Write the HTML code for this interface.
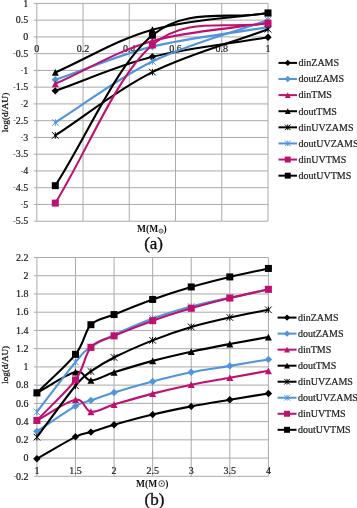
<!DOCTYPE html>
<html><head><meta charset="utf-8"><style>
html,body{margin:0;padding:0;background:#fff;}
body{width:357px;height:508px;overflow:hidden;}
svg{display:block;will-change:transform;}
.lab{font-family:"Liberation Serif",serif;font-size:10px;fill:#1a1a1a;stroke:#1a1a1a;stroke-width:0.2px;}
.leg{font-family:"Liberation Serif",serif;font-size:10px;fill:#1a1a1a;stroke:#1a1a1a;stroke-width:0.2px;}
.ttl{font-family:"Liberation Serif",serif;font-size:9.5px;font-weight:bold;fill:#111;}
.ttl2{font-family:"Liberation Serif",serif;font-weight:normal;fill:#111;stroke:#111;stroke-width:0.25px;}
.big{font-family:"Liberation Serif",serif;font-size:17px;fill:#111;stroke:#111;stroke-width:0.35px;}
</style></head><body>
<svg width="357" height="508" viewBox="0 0 357 508">
<line x1="33.8" y1="3.4" x2="268" y2="3.4" stroke="#AAAAAA" stroke-width="1"/>
<line x1="33.8" y1="20.15" x2="268" y2="20.15" stroke="#AAAAAA" stroke-width="1"/>
<line x1="33.8" y1="36.91" x2="268" y2="36.91" stroke="#AAAAAA" stroke-width="1"/>
<line x1="33.8" y1="53.66" x2="268" y2="53.66" stroke="#AAAAAA" stroke-width="1"/>
<line x1="33.8" y1="70.42" x2="268" y2="70.42" stroke="#AAAAAA" stroke-width="1"/>
<line x1="33.8" y1="87.17" x2="268" y2="87.17" stroke="#AAAAAA" stroke-width="1"/>
<line x1="33.8" y1="103.92" x2="268" y2="103.92" stroke="#AAAAAA" stroke-width="1"/>
<line x1="33.8" y1="120.68" x2="268" y2="120.68" stroke="#AAAAAA" stroke-width="1"/>
<line x1="33.8" y1="137.43" x2="268" y2="137.43" stroke="#AAAAAA" stroke-width="1"/>
<line x1="33.8" y1="154.18" x2="268" y2="154.18" stroke="#AAAAAA" stroke-width="1"/>
<line x1="33.8" y1="170.94" x2="268" y2="170.94" stroke="#AAAAAA" stroke-width="1"/>
<line x1="33.8" y1="187.69" x2="268" y2="187.69" stroke="#AAAAAA" stroke-width="1"/>
<line x1="33.8" y1="204.45" x2="268" y2="204.45" stroke="#AAAAAA" stroke-width="1"/>
<line x1="33.8" y1="221.2" x2="268" y2="221.2" stroke="#AAAAAA" stroke-width="1"/>
<line x1="36.8" y1="3.4" x2="36.8" y2="221.2" stroke="#AAAAAA" stroke-width="1"/>
<line x1="83.04" y1="3.4" x2="83.04" y2="221.2" stroke="#AAAAAA" stroke-width="1"/>
<line x1="129.28" y1="3.4" x2="129.28" y2="221.2" stroke="#AAAAAA" stroke-width="1"/>
<line x1="175.52" y1="3.4" x2="175.52" y2="221.2" stroke="#AAAAAA" stroke-width="1"/>
<line x1="221.76" y1="3.4" x2="221.76" y2="221.2" stroke="#AAAAAA" stroke-width="1"/>
<line x1="268" y1="3.4" x2="268" y2="221.2" stroke="#AAAAAA" stroke-width="1"/>
<text x="28.2" y="6.6" text-anchor="end" class="lab">1</text>
<text x="28.2" y="23.35" text-anchor="end" class="lab">0.5</text>
<text x="28.2" y="40.11" text-anchor="end" class="lab">0</text>
<text x="28.2" y="56.86" text-anchor="end" class="lab"><tspan font-size="7" dy="-1.4">-</tspan><tspan dy="1.4">0.5</tspan></text>
<text x="28.2" y="73.62" text-anchor="end" class="lab"><tspan font-size="7" dy="-1.4">-</tspan><tspan dy="1.4">1</tspan></text>
<text x="28.2" y="90.37" text-anchor="end" class="lab"><tspan font-size="7" dy="-1.4">-</tspan><tspan dy="1.4">1.5</tspan></text>
<text x="28.2" y="107.12" text-anchor="end" class="lab"><tspan font-size="7" dy="-1.4">-</tspan><tspan dy="1.4">2</tspan></text>
<text x="28.2" y="123.88" text-anchor="end" class="lab"><tspan font-size="7" dy="-1.4">-</tspan><tspan dy="1.4">2.5</tspan></text>
<text x="28.2" y="140.63" text-anchor="end" class="lab"><tspan font-size="7" dy="-1.4">-</tspan><tspan dy="1.4">3</tspan></text>
<text x="28.2" y="157.38" text-anchor="end" class="lab"><tspan font-size="7" dy="-1.4">-</tspan><tspan dy="1.4">3.5</tspan></text>
<text x="28.2" y="174.14" text-anchor="end" class="lab"><tspan font-size="7" dy="-1.4">-</tspan><tspan dy="1.4">4</tspan></text>
<text x="28.2" y="190.89" text-anchor="end" class="lab"><tspan font-size="7" dy="-1.4">-</tspan><tspan dy="1.4">4.5</tspan></text>
<text x="28.2" y="207.65" text-anchor="end" class="lab"><tspan font-size="7" dy="-1.4">-</tspan><tspan dy="1.4">5</tspan></text>
<text x="28.2" y="224.4" text-anchor="end" class="lab"><tspan font-size="7" dy="-1.4">-</tspan><tspan dy="1.4">5.5</tspan></text>
<text x="36.8" y="51.5" text-anchor="middle" class="lab">0</text>
<text x="83.04" y="51.5" text-anchor="middle" class="lab">0.2</text>
<text x="129.28" y="51.5" text-anchor="middle" class="lab">0.4</text>
<text x="175.52" y="51.5" text-anchor="middle" class="lab">0.6</text>
<text x="221.76" y="51.5" text-anchor="middle" class="lab">0.8</text>
<text x="268" y="51.5" text-anchor="middle" class="lab">1</text>
<path d="M55.3 90.86 C87.66 79.51 116.95 65.76 152.4 56.81 C187.85 47.86 229.47 43.72 268 37.18" fill="none" stroke="#000000" stroke-width="2.1" stroke-linejoin="round" stroke-linecap="round"/>
<path d="M55.3 87.16L59 90.86L55.3 94.56L51.6 90.86Z" fill="#000000"/>
<path d="M152.4 53.11L156.1 56.81L152.4 60.51L148.7 56.81Z" fill="#000000"/>
<path d="M268 33.48L271.7 37.18L268 40.88L264.3 37.18Z" fill="#000000"/>
<path d="M55.3 79.8 C87.66 68.74 116.95 55.41 152.4 46.62 C187.85 37.84 229.47 33.6 268 27.09" fill="none" stroke="#4F94DC" stroke-width="2.1" stroke-linejoin="round" stroke-linecap="round"/>
<path d="M55.3 76.1L59 79.8L55.3 83.5L51.6 79.8Z" fill="#4F94DC"/>
<path d="M152.4 42.92L156.1 46.62L152.4 50.32L148.7 46.62Z" fill="#4F94DC"/>
<path d="M268 23.39L271.7 27.09L268 30.79L264.3 27.09Z" fill="#4F94DC"/>
<path d="M55.3 83.82 C87.66 69.52 116.95 51.05 152.4 40.93 C187.85 30.8 229.47 29.02 268 23.07" fill="none" stroke="#C0106F" stroke-width="2.1" stroke-linejoin="round" stroke-linecap="round"/>
<path d="M55.3 80.42L58.8 87.22L51.8 87.22Z" fill="#C0106F"/>
<path d="M152.4 37.53L155.9 44.33L148.9 44.33Z" fill="#C0106F"/>
<path d="M268 19.67L271.5 26.47L264.5 26.47Z" fill="#C0106F"/>
<path d="M55.3 72.43 C87.66 58.19 116.95 39.62 152.4 29.7 C187.85 19.79 229.47 18.51 268 12.92" fill="none" stroke="#000000" stroke-width="2.1" stroke-linejoin="round" stroke-linecap="round"/>
<path d="M55.3 69.03L58.8 75.83L51.8 75.83Z" fill="#000000"/>
<path d="M152.4 26.3L155.9 33.1L148.9 33.1Z" fill="#000000"/>
<path d="M268 9.52L271.5 16.32L264.5 16.32Z" fill="#000000"/>
<path d="M55.3 135.42 C87.66 114.31 116.95 89.79 152.4 72.09 C187.85 54.39 229.47 43.5 268 29.2" fill="none" stroke="#000000" stroke-width="2.1" stroke-linejoin="round" stroke-linecap="round"/>
<path d="M52 132.12L58.6 138.72M52 138.72L58.6 132.12M55.3 132.12L55.3 138.72" stroke="#000000" stroke-width="1" fill="none"/>
<path d="M149.1 68.79L155.7 75.39M149.1 75.39L155.7 68.79M152.4 68.79L152.4 75.39" stroke="#000000" stroke-width="1" fill="none"/>
<path d="M264.7 25.9L271.3 32.5M264.7 32.5L271.3 25.9M268 25.9L268 32.5" stroke="#000000" stroke-width="1" fill="none"/>
<path d="M55.3 122.52 C87.66 102.18 116.95 78.6 152.4 61.5 C187.85 44.41 229.47 33.8 268 19.95" fill="none" stroke="#4F94DC" stroke-width="2.1" stroke-linejoin="round" stroke-linecap="round"/>
<path d="M52 119.22L58.6 125.82M52 125.82L58.6 119.22M55.3 119.22L55.3 125.82" stroke="#4F94DC" stroke-width="1" fill="none"/>
<path d="M149.1 58.2L155.7 64.8M149.1 64.8L155.7 58.2M152.4 58.2L152.4 64.8" stroke="#4F94DC" stroke-width="1" fill="none"/>
<path d="M264.7 16.65L271.3 23.25M264.7 23.25L271.3 16.65M268 16.65L268 23.25" stroke="#4F94DC" stroke-width="1" fill="none"/>
<path d="M55.3 203.11 C87.66 150.39 116.95 74.96 152.4 44.95 C187.85 14.94 229.47 30.36 268 23.07" fill="none" stroke="#C0106F" stroke-width="2.1" stroke-linejoin="round" stroke-linecap="round"/>
<rect x="51.8" y="199.61" width="7" height="7" fill="#C0106F"/>
<rect x="148.9" y="41.45" width="7" height="7" fill="#C0106F"/>
<rect x="264.5" y="19.57" width="7" height="7" fill="#C0106F"/>
<path d="M55.3 185.68 C87.66 135.53 116.95 64.03 152.4 35.23 C187.85 6.44 229.47 20.35 268 12.92" fill="none" stroke="#000000" stroke-width="2.1" stroke-linejoin="round" stroke-linecap="round"/>
<rect x="51.8" y="182.18" width="7" height="7" fill="#000000"/>
<rect x="148.9" y="31.73" width="7" height="7" fill="#000000"/>
<rect x="264.5" y="9.42" width="7" height="7" fill="#000000"/>
<line x1="278.5" y1="62.9" x2="297" y2="62.9" stroke="#000000" stroke-width="2"/>
<path d="M287.75 59.75L290.89 62.9L287.75 66.05L284.61 62.9Z" fill="#000000"/>
<text x="298.5" y="66.2" class="leg">dinZAMS</text>
<line x1="278.5" y1="79.01" x2="297" y2="79.01" stroke="#4F94DC" stroke-width="2"/>
<path d="M287.75 75.86L290.89 79.01L287.75 82.15L284.61 79.01Z" fill="#4F94DC"/>
<text x="298.5" y="82.31" class="leg">doutZAMS</text>
<line x1="278.5" y1="95.12" x2="297" y2="95.12" stroke="#C0106F" stroke-width="2"/>
<path d="M287.75 92.23L290.73 98.01L284.77 98.01Z" fill="#C0106F"/>
<text x="298.5" y="98.42" class="leg">dinTMS</text>
<line x1="278.5" y1="111.23" x2="297" y2="111.23" stroke="#000000" stroke-width="2"/>
<path d="M287.75 108.34L290.73 114.12L284.77 114.12Z" fill="#000000"/>
<text x="298.5" y="114.53" class="leg">doutTMS</text>
<line x1="278.5" y1="127.34" x2="297" y2="127.34" stroke="#000000" stroke-width="2"/>
<path d="M284.94 124.53L290.56 130.15M284.94 130.15L290.56 124.53M287.75 124.53L287.75 130.15" stroke="#000000" stroke-width="1" fill="none"/>
<text x="298.5" y="130.64" class="leg">dinUVZAMS</text>
<line x1="278.5" y1="143.45" x2="297" y2="143.45" stroke="#4F94DC" stroke-width="2"/>
<path d="M284.94 140.64L290.56 146.25M284.94 146.25L290.56 140.64M287.75 140.64L287.75 146.25" stroke="#4F94DC" stroke-width="1" fill="none"/>
<text x="298.5" y="146.75" class="leg">doutUVZAMS</text>
<line x1="278.5" y1="159.56" x2="297" y2="159.56" stroke="#C0106F" stroke-width="2"/>
<rect x="284.77" y="156.59" width="5.95" height="5.95" fill="#C0106F"/>
<text x="298.5" y="162.86" class="leg">dinUVTMS</text>
<line x1="278.5" y1="175.67" x2="297" y2="175.67" stroke="#000000" stroke-width="2"/>
<rect x="284.77" y="172.69" width="5.95" height="5.95" fill="#000000"/>
<text x="298.5" y="178.97" class="leg">doutUVTMS</text>
<text transform="translate(8.1 112.4) rotate(-90)" text-anchor="middle" class="ttl2" font-size="9.2" textLength="39.5" lengthAdjust="spacingAndGlyphs">log(d/AU)</text>
<text x="137" y="232" class="ttl">M(M</text><circle cx="161" cy="231.1" r="2.0" fill="none" stroke="#222" stroke-width="0.75"/><circle cx="161" cy="231.1" r="0.6" fill="#222"/><text x="163.6" y="232" class="ttl">)</text>
<text x="153.6" y="249" text-anchor="middle" class="big">(a)</text>
<line x1="33.9" y1="257.5" x2="268.4" y2="257.5" stroke="#AAAAAA" stroke-width="1"/>
<line x1="33.9" y1="275.73" x2="268.4" y2="275.73" stroke="#AAAAAA" stroke-width="1"/>
<line x1="33.9" y1="293.97" x2="268.4" y2="293.97" stroke="#AAAAAA" stroke-width="1"/>
<line x1="33.9" y1="312.2" x2="268.4" y2="312.2" stroke="#AAAAAA" stroke-width="1"/>
<line x1="33.9" y1="330.43" x2="268.4" y2="330.43" stroke="#AAAAAA" stroke-width="1"/>
<line x1="33.9" y1="348.67" x2="268.4" y2="348.67" stroke="#AAAAAA" stroke-width="1"/>
<line x1="33.9" y1="366.9" x2="268.4" y2="366.9" stroke="#AAAAAA" stroke-width="1"/>
<line x1="33.9" y1="385.13" x2="268.4" y2="385.13" stroke="#AAAAAA" stroke-width="1"/>
<line x1="33.9" y1="403.37" x2="268.4" y2="403.37" stroke="#AAAAAA" stroke-width="1"/>
<line x1="33.9" y1="421.6" x2="268.4" y2="421.6" stroke="#AAAAAA" stroke-width="1"/>
<line x1="33.9" y1="439.83" x2="268.4" y2="439.83" stroke="#AAAAAA" stroke-width="1"/>
<line x1="33.9" y1="458.07" x2="268.4" y2="458.07" stroke="#AAAAAA" stroke-width="1"/>
<line x1="33.9" y1="476.3" x2="268.4" y2="476.3" stroke="#AAAAAA" stroke-width="1"/>
<line x1="36.9" y1="257.5" x2="36.9" y2="476.3" stroke="#AAAAAA" stroke-width="1"/>
<line x1="75.48" y1="257.5" x2="75.48" y2="476.3" stroke="#AAAAAA" stroke-width="1"/>
<line x1="114.07" y1="257.5" x2="114.07" y2="476.3" stroke="#AAAAAA" stroke-width="1"/>
<line x1="152.65" y1="257.5" x2="152.65" y2="476.3" stroke="#AAAAAA" stroke-width="1"/>
<line x1="191.23" y1="257.5" x2="191.23" y2="476.3" stroke="#AAAAAA" stroke-width="1"/>
<line x1="229.82" y1="257.5" x2="229.82" y2="476.3" stroke="#AAAAAA" stroke-width="1"/>
<line x1="268.4" y1="257.5" x2="268.4" y2="476.3" stroke="#AAAAAA" stroke-width="1"/>
<text x="28.6" y="260.7" text-anchor="end" class="lab">2.2</text>
<text x="28.6" y="278.93" text-anchor="end" class="lab">2</text>
<text x="28.6" y="297.17" text-anchor="end" class="lab">1.8</text>
<text x="28.6" y="315.4" text-anchor="end" class="lab">1.6</text>
<text x="28.6" y="333.63" text-anchor="end" class="lab">1.4</text>
<text x="28.6" y="351.87" text-anchor="end" class="lab">1.2</text>
<text x="28.6" y="370.1" text-anchor="end" class="lab">1</text>
<text x="28.6" y="388.33" text-anchor="end" class="lab">0.8</text>
<text x="28.6" y="406.57" text-anchor="end" class="lab">0.6</text>
<text x="28.6" y="424.8" text-anchor="end" class="lab">0.4</text>
<text x="28.6" y="443.03" text-anchor="end" class="lab">0.2</text>
<text x="28.6" y="461.27" text-anchor="end" class="lab">0</text>
<text x="28.6" y="479.5" text-anchor="end" class="lab"><tspan font-size="7" dy="-1.4">-</tspan><tspan dy="1.4">0.2</tspan></text>
<text x="36.9" y="473.5" text-anchor="middle" class="lab">1</text>
<text x="75.48" y="473.5" text-anchor="middle" class="lab">1.5</text>
<text x="114.07" y="473.5" text-anchor="middle" class="lab">2</text>
<text x="152.65" y="473.5" text-anchor="middle" class="lab">2.5</text>
<text x="191.23" y="473.5" text-anchor="middle" class="lab">3</text>
<text x="229.82" y="473.5" text-anchor="middle" class="lab">3.5</text>
<text x="268.4" y="473.5" text-anchor="middle" class="lab">4</text>
<path d="M36.9 458.8 C49.76 451.47 66.48 441.28 75.48 436.82 C84.49 432.37 84.49 434.09 90.92 432.08 C97.35 430.08 103.78 427.71 114.07 424.79 C124.36 421.87 139.79 417.65 152.65 414.58 C165.51 411.51 178.37 408.85 191.23 406.38 C204.09 403.9 216.96 401.88 229.82 399.72 C242.68 397.56 255.54 395.53 268.4 393.43" fill="none" stroke="#000000" stroke-width="2.1" stroke-linejoin="round" stroke-linecap="round"/>
<path d="M36.9 455.1L40.6 458.8L36.9 462.5L33.2 458.8Z" fill="#000000"/>
<path d="M75.48 433.12L79.18 436.82L75.48 440.52L71.78 436.82Z" fill="#000000"/>
<path d="M90.92 428.38L94.62 432.08L90.92 435.78L87.22 432.08Z" fill="#000000"/>
<path d="M114.07 421.09L117.77 424.79L114.07 428.49L110.37 424.79Z" fill="#000000"/>
<path d="M152.65 410.88L156.35 414.58L152.65 418.28L148.95 414.58Z" fill="#000000"/>
<path d="M191.23 402.68L194.93 406.38L191.23 410.08L187.53 406.38Z" fill="#000000"/>
<path d="M229.82 396.02L233.52 399.72L229.82 403.42L226.12 399.72Z" fill="#000000"/>
<path d="M268.4 389.73L272.1 393.43L268.4 397.13L264.7 393.43Z" fill="#000000"/>
<path d="M36.9 431.35 C49.76 422.97 66.48 411.36 75.48 406.19 C84.49 401.03 84.49 402.64 90.92 400.36 C97.35 398.08 103.78 395.66 114.07 392.52 C124.36 389.37 139.79 384.86 152.65 381.49 C165.51 378.11 178.37 374.88 191.23 372.28 C204.09 369.68 216.96 368.04 229.82 365.9 C242.68 363.75 255.54 361.58 268.4 359.42" fill="none" stroke="#4F94DC" stroke-width="2.1" stroke-linejoin="round" stroke-linecap="round"/>
<path d="M36.9 427.65L40.6 431.35L36.9 435.05L33.2 431.35Z" fill="#4F94DC"/>
<path d="M75.48 402.49L79.18 406.19L75.48 409.89L71.78 406.19Z" fill="#4F94DC"/>
<path d="M90.92 396.66L94.62 400.36L90.92 404.06L87.22 400.36Z" fill="#4F94DC"/>
<path d="M114.07 388.82L117.77 392.52L114.07 396.22L110.37 392.52Z" fill="#4F94DC"/>
<path d="M152.65 377.79L156.35 381.49L152.65 385.19L148.95 381.49Z" fill="#4F94DC"/>
<path d="M191.23 368.58L194.93 372.28L191.23 375.98L187.53 372.28Z" fill="#4F94DC"/>
<path d="M229.82 362.2L233.52 365.9L229.82 369.6L226.12 365.9Z" fill="#4F94DC"/>
<path d="M268.4 355.72L272.1 359.42L268.4 363.12L264.7 359.42Z" fill="#4F94DC"/>
<path d="M36.9 420.41 C49.76 413.52 66.48 401.16 75.48 399.72 C84.49 398.28 84.49 410.95 90.92 411.75 C97.35 412.56 103.78 407.58 114.07 404.55 C124.36 401.53 139.79 396.92 152.65 393.61 C165.51 390.3 178.37 387.34 191.23 384.68 C204.09 382.02 216.96 379.97 229.82 377.66 C242.68 375.35 255.54 373.1 268.4 370.82" fill="none" stroke="#C0106F" stroke-width="2.1" stroke-linejoin="round" stroke-linecap="round"/>
<path d="M36.9 417.01L40.4 423.81L33.4 423.81Z" fill="#C0106F"/>
<path d="M75.48 396.32L78.98 403.12L71.98 403.12Z" fill="#C0106F"/>
<path d="M90.92 408.35L94.42 415.15L87.42 415.15Z" fill="#C0106F"/>
<path d="M114.07 401.15L117.57 407.95L110.57 407.95Z" fill="#C0106F"/>
<path d="M152.65 390.21L156.15 397.01L149.15 397.01Z" fill="#C0106F"/>
<path d="M191.23 381.28L194.73 388.08L187.73 388.08Z" fill="#C0106F"/>
<path d="M229.82 374.26L233.32 381.06L226.32 381.06Z" fill="#C0106F"/>
<path d="M268.4 367.42L271.9 374.22L264.9 374.22Z" fill="#C0106F"/>
<path d="M36.9 392.79 C49.76 385.86 66.48 374.07 75.48 372.01 C84.49 369.94 84.49 380.33 90.92 380.39 C97.35 380.45 103.78 375.62 114.07 372.37 C124.36 369.12 139.79 364.33 152.65 360.88 C165.51 357.43 178.37 354.49 191.23 351.68 C204.09 348.86 216.96 346.45 229.82 344.02 C242.68 341.59 255.54 339.4 268.4 337.09" fill="none" stroke="#000000" stroke-width="2.1" stroke-linejoin="round" stroke-linecap="round"/>
<path d="M36.9 389.39L40.4 396.19L33.4 396.19Z" fill="#000000"/>
<path d="M75.48 368.61L78.98 375.41L71.98 375.41Z" fill="#000000"/>
<path d="M90.92 376.99L94.42 383.79L87.42 383.79Z" fill="#000000"/>
<path d="M114.07 368.97L117.57 375.77L110.57 375.77Z" fill="#000000"/>
<path d="M152.65 357.48L156.15 364.28L149.15 364.28Z" fill="#000000"/>
<path d="M191.23 348.28L194.73 355.08L187.73 355.08Z" fill="#000000"/>
<path d="M229.82 340.62L233.32 347.42L226.32 347.42Z" fill="#000000"/>
<path d="M268.4 333.69L271.9 340.49L264.9 340.49Z" fill="#000000"/>
<path d="M36.9 437.1 C49.76 419.99 66.48 396.71 75.48 385.77 C84.49 374.83 84.49 376.17 90.92 371.46 C97.35 366.75 103.78 362.69 114.07 357.51 C124.36 352.33 139.79 345.46 152.65 340.37 C165.51 335.28 178.37 330.78 191.23 326.97 C204.09 323.16 216.96 320.34 229.82 317.49 C242.68 314.63 255.54 312.38 268.4 309.83" fill="none" stroke="#000000" stroke-width="2.1" stroke-linejoin="round" stroke-linecap="round"/>
<path d="M33.6 433.8L40.2 440.4M33.6 440.4L40.2 433.8M36.9 433.8L36.9 440.4" stroke="#000000" stroke-width="1" fill="none"/>
<path d="M72.18 382.47L78.78 389.07M72.18 389.07L78.78 382.47M75.48 382.47L75.48 389.07" stroke="#000000" stroke-width="1" fill="none"/>
<path d="M87.62 368.16L94.22 374.76M87.62 374.76L94.22 368.16M90.92 368.16L90.92 374.76" stroke="#000000" stroke-width="1" fill="none"/>
<path d="M110.77 354.21L117.37 360.81M110.77 360.81L117.37 354.21M114.07 354.21L114.07 360.81" stroke="#000000" stroke-width="1" fill="none"/>
<path d="M149.35 337.07L155.95 343.67M149.35 343.67L155.95 337.07M152.65 337.07L152.65 343.67" stroke="#000000" stroke-width="1" fill="none"/>
<path d="M187.93 323.67L194.53 330.27M187.93 330.27L194.53 323.67M191.23 323.67L191.23 330.27" stroke="#000000" stroke-width="1" fill="none"/>
<path d="M226.52 314.19L233.12 320.79M226.52 320.79L233.12 314.19M229.82 314.19L229.82 320.79" stroke="#000000" stroke-width="1" fill="none"/>
<path d="M265.1 306.53L271.7 313.13M265.1 313.13L271.7 306.53M268.4 306.53L268.4 313.13" stroke="#000000" stroke-width="1" fill="none"/>
<path d="M36.9 411.94 C49.76 395.31 66.48 372.92 75.48 362.07 C84.49 351.22 84.49 351.36 90.92 346.84 C97.35 342.33 103.78 339.7 114.07 334.99 C124.36 330.28 139.79 323.32 152.65 318.58 C165.51 313.84 178.37 310.04 191.23 306.55 C204.09 303.05 216.96 300.44 229.82 297.61 C242.68 294.79 255.54 292.26 268.4 289.59" fill="none" stroke="#4F94DC" stroke-width="2.1" stroke-linejoin="round" stroke-linecap="round"/>
<path d="M33.6 408.64L40.2 415.24M33.6 415.24L40.2 408.64M36.9 408.64L36.9 415.24" stroke="#4F94DC" stroke-width="1" fill="none"/>
<path d="M72.18 358.77L78.78 365.37M72.18 365.37L78.78 358.77M75.48 358.77L75.48 365.37" stroke="#4F94DC" stroke-width="1" fill="none"/>
<path d="M87.62 343.54L94.22 350.14M87.62 350.14L94.22 343.54M90.92 343.54L90.92 350.14" stroke="#4F94DC" stroke-width="1" fill="none"/>
<path d="M110.77 331.69L117.37 338.29M110.77 338.29L117.37 331.69M114.07 331.69L114.07 338.29" stroke="#4F94DC" stroke-width="1" fill="none"/>
<path d="M149.35 315.28L155.95 321.88M149.35 321.88L155.95 315.28M152.65 315.28L152.65 321.88" stroke="#4F94DC" stroke-width="1" fill="none"/>
<path d="M187.93 303.25L194.53 309.85M187.93 309.85L194.53 303.25M191.23 303.25L191.23 309.85" stroke="#4F94DC" stroke-width="1" fill="none"/>
<path d="M226.52 294.31L233.12 300.91M226.52 300.91L233.12 294.31M229.82 294.31L229.82 300.91" stroke="#4F94DC" stroke-width="1" fill="none"/>
<path d="M265.1 286.29L271.7 292.89M265.1 292.89L271.7 286.29M268.4 286.29L268.4 292.89" stroke="#4F94DC" stroke-width="1" fill="none"/>
<path d="M36.9 420.41 C49.76 406.92 66.48 392.11 75.48 379.94 C84.49 367.77 84.49 354.73 90.92 347.39 C97.35 340.05 103.78 340.36 114.07 335.9 C124.36 331.45 139.79 325.28 152.65 320.68 C165.51 316.07 178.37 312.05 191.23 308.28 C204.09 304.51 216.96 301.23 229.82 298.07 C242.68 294.91 255.54 292.23 268.4 289.32" fill="none" stroke="#C0106F" stroke-width="2.1" stroke-linejoin="round" stroke-linecap="round"/>
<rect x="33.4" y="416.91" width="7" height="7" fill="#C0106F"/>
<rect x="71.98" y="376.44" width="7" height="7" fill="#C0106F"/>
<rect x="87.42" y="343.89" width="7" height="7" fill="#C0106F"/>
<rect x="110.57" y="332.4" width="7" height="7" fill="#C0106F"/>
<rect x="149.15" y="317.18" width="7" height="7" fill="#C0106F"/>
<rect x="187.73" y="304.78" width="7" height="7" fill="#C0106F"/>
<rect x="226.32" y="294.57" width="7" height="7" fill="#C0106F"/>
<rect x="264.9" y="285.82" width="7" height="7" fill="#C0106F"/>
<path d="M36.9 392.79 C49.76 379.97 66.48 365.67 75.48 354.32 C84.49 342.97 84.49 331.31 90.92 324.69 C97.35 318.07 103.78 318.78 114.07 314.57 C124.36 310.36 139.79 304.04 152.65 299.44 C165.51 294.83 178.37 290.7 191.23 286.95 C204.09 283.19 216.96 280 229.82 276.92 C242.68 273.83 255.54 271.27 268.4 268.44" fill="none" stroke="#000000" stroke-width="2.1" stroke-linejoin="round" stroke-linecap="round"/>
<rect x="33.4" y="389.29" width="7" height="7" fill="#000000"/>
<rect x="71.98" y="350.82" width="7" height="7" fill="#000000"/>
<rect x="87.42" y="321.19" width="7" height="7" fill="#000000"/>
<rect x="110.57" y="311.07" width="7" height="7" fill="#000000"/>
<rect x="149.15" y="295.94" width="7" height="7" fill="#000000"/>
<rect x="187.73" y="283.45" width="7" height="7" fill="#000000"/>
<rect x="226.32" y="273.42" width="7" height="7" fill="#000000"/>
<rect x="264.9" y="264.94" width="7" height="7" fill="#000000"/>
<line x1="277.6" y1="317.6" x2="296.5" y2="317.6" stroke="#000000" stroke-width="2"/>
<path d="M287.05 314.46L290.19 317.6L287.05 320.75L283.91 317.6Z" fill="#000000"/>
<text x="297.9" y="320.9" class="leg">dinZAMS</text>
<line x1="277.6" y1="333.63" x2="296.5" y2="333.63" stroke="#4F94DC" stroke-width="2"/>
<path d="M287.05 330.49L290.19 333.63L287.05 336.77L283.91 333.63Z" fill="#4F94DC"/>
<text x="297.9" y="336.93" class="leg">doutZAMS</text>
<line x1="277.6" y1="349.66" x2="296.5" y2="349.66" stroke="#C0106F" stroke-width="2"/>
<path d="M287.05 346.77L290.03 352.55L284.07 352.55Z" fill="#C0106F"/>
<text x="297.9" y="352.96" class="leg">dinTMS</text>
<line x1="277.6" y1="365.69" x2="296.5" y2="365.69" stroke="#000000" stroke-width="2"/>
<path d="M287.05 362.8L290.03 368.58L284.07 368.58Z" fill="#000000"/>
<text x="297.9" y="368.99" class="leg">doutTMS</text>
<line x1="277.6" y1="381.72" x2="296.5" y2="381.72" stroke="#000000" stroke-width="2"/>
<path d="M284.25 378.92L289.86 384.53M284.25 384.53L289.86 378.92M287.05 378.92L287.05 384.53" stroke="#000000" stroke-width="1" fill="none"/>
<text x="297.9" y="385.02" class="leg">dinUVZAMS</text>
<line x1="277.6" y1="397.75" x2="296.5" y2="397.75" stroke="#4F94DC" stroke-width="2"/>
<path d="M284.25 394.94L289.86 400.56M284.25 400.56L289.86 394.94M287.05 394.94L287.05 400.56" stroke="#4F94DC" stroke-width="1" fill="none"/>
<text x="297.9" y="401.05" class="leg">doutUVZAMS</text>
<line x1="277.6" y1="413.78" x2="296.5" y2="413.78" stroke="#C0106F" stroke-width="2"/>
<rect x="284.07" y="410.81" width="5.95" height="5.95" fill="#C0106F"/>
<text x="297.9" y="417.08" class="leg">dinUVTMS</text>
<line x1="277.6" y1="429.81" x2="296.5" y2="429.81" stroke="#000000" stroke-width="2"/>
<rect x="284.07" y="426.84" width="5.95" height="5.95" fill="#000000"/>
<text x="297.9" y="433.11" class="leg">doutUVTMS</text>
<text transform="translate(8.1 364.9) rotate(-90)" text-anchor="middle" class="ttl2" font-size="9.2" textLength="37.8" lengthAdjust="spacingAndGlyphs">log(d/AU)</text>
<text x="136" y="487" class="ttl">M(M</text><circle cx="161.7" cy="483.6" r="2.9" fill="none" stroke="#222" stroke-width="0.8"/><circle cx="161.7" cy="483.6" r="0.75" fill="#222"/><text x="165.2" y="487" class="ttl">)</text>
<text x="154.5" y="504.6" text-anchor="middle" class="big">(b)</text>
</svg>
</body></html>
